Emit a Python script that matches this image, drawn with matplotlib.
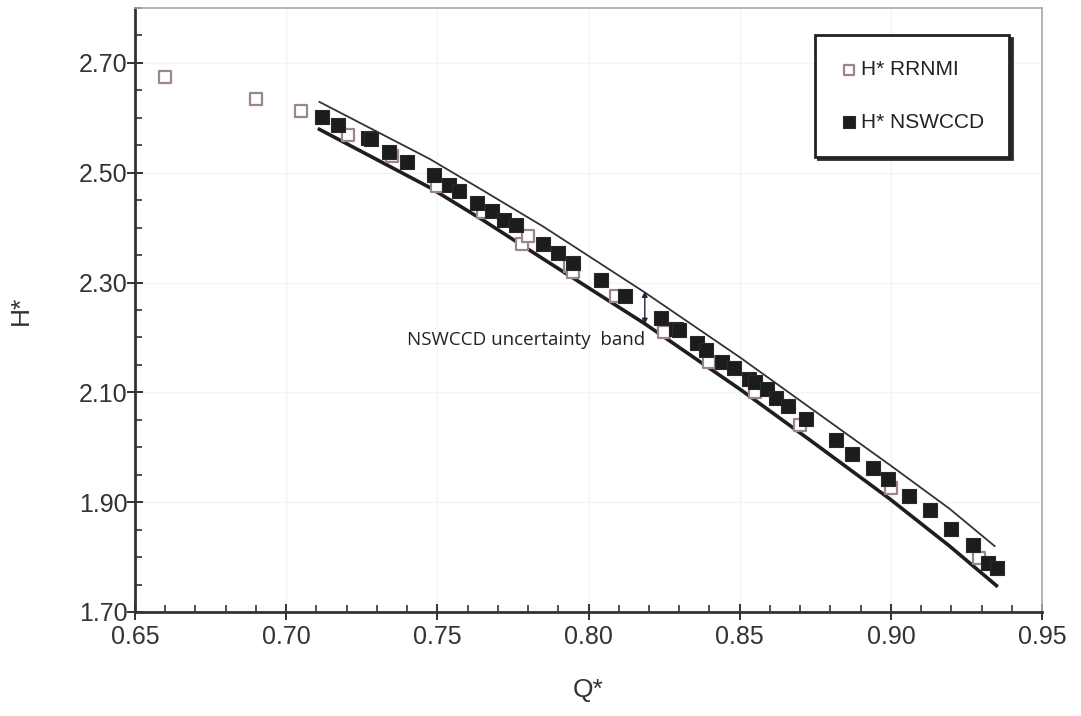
import matplotlib.pyplot as plt
import numpy as np
from matplotlib.ticker import MultipleLocator, FormatStrFormatter

# RRNMI test points (open squares)
q_rrnmi = [0.660, 0.690, 0.705, 0.7205, 0.735, 0.750, 0.765, 0.778, 0.780, 0.794, 0.795,
           0.809, 0.825, 0.840, 0.855, 0.870, 0.900, 0.929]
h_rrnmi = [2.675, 2.635, 2.612, 2.569, 2.530, 2.476, 2.428, 2.371, 2.385, 2.330, 2.320,
           2.275, 2.210, 2.155, 2.100, 2.040, 1.925, 1.798]

# NSWCCD test points (filled squares)
q_nswccd = [0.712, 0.717, 0.727, 0.728, 0.734, 0.740, 0.749, 0.754, 0.757, 0.763, 0.768,
            0.772, 0.776, 0.785, 0.790, 0.795, 0.804, 0.812, 0.824, 0.829, 0.830, 0.836,
            0.839, 0.844, 0.848, 0.853, 0.855, 0.859, 0.862, 0.866, 0.872, 0.882, 0.887,
            0.894, 0.899, 0.906, 0.913, 0.920, 0.927, 0.932, 0.935]
h_nswccd = [2.602, 2.587, 2.563, 2.561, 2.537, 2.520, 2.495, 2.478, 2.467, 2.444, 2.430,
            2.413, 2.404, 2.371, 2.353, 2.336, 2.304, 2.275, 2.235, 2.216, 2.213, 2.189,
            2.178, 2.156, 2.145, 2.125, 2.118, 2.107, 2.090, 2.075, 2.051, 2.013, 1.987,
            1.962, 1.942, 1.911, 1.886, 1.852, 1.822, 1.789, 1.780]

# uncertainty band limits
q_band_hi = [0.711, 0.7475, 0.765, 0.785, 0.8186, 0.850, 0.873, 0.8996, 0.9194, 0.9343]
h_band_hi = [2.629, 2.525, 2.468, 2.402, 2.282, 2.164, 2.073, 1.968, 1.888, 1.820]
q_band_lo = [0.711, 0.7475, 0.765, 0.785, 0.8186, 0.850, 0.873, 0.8996, 0.9194, 0.9349]
h_band_lo = [2.579, 2.473, 2.414, 2.343, 2.225, 2.106, 2.014, 1.906, 1.820, 1.748]

plt.rcParams['font.family'] = ['Liberation Sans', 'DejaVu Sans']

fig = plt.figure(figsize=(10.81, 7.16), dpi=100)
ax = fig.add_axes([0.1249, 0.1453, 0.8391, 0.8435])

ax.plot(q_band_hi, h_band_hi, color='#333333', lw=1.3, zorder=2)
ax.plot(q_band_lo, h_band_lo, color='#1e1e1e', lw=2.6, zorder=2)

ax.scatter(q_rrnmi, h_rrnmi, marker='s', s=64, facecolor='white',
           edgecolor='#9c8494', linewidths=1.6, zorder=3, label='H* RRNMI')
ax.scatter(q_nswccd, h_nswccd, marker='s', s=115, facecolor='#1c1c1c',
           edgecolor='#2a2a2a', linewidths=0.8, zorder=4, label='H* NSWCCD')

# double arrow showing band width
ax.annotate('', xy=(0.8186, 2.284), xytext=(0.8186, 2.224),
            arrowprops=dict(arrowstyle='<|-|>', color='#222244', lw=1.0,
                            mutation_scale=8, shrinkA=0, shrinkB=0), zorder=5)
ax.text(0.8186, 2.1945, 'NSWCCD uncertainty  band', family=['Open Sans', 'DejaVu Sans'],
        fontsize=13.5, color='#222222', ha='right', va='center', zorder=5)

ax.set_xlim(0.65, 0.95)
ax.set_ylim(1.70, 2.80)
ax.xaxis.set_major_locator(MultipleLocator(0.05))
ax.xaxis.set_minor_locator(MultipleLocator(0.01))
ax.yaxis.set_major_locator(MultipleLocator(0.20))
ax.yaxis.set_minor_locator(MultipleLocator(0.05))
ax.xaxis.set_major_formatter(FormatStrFormatter('%.2f'))
ax.yaxis.set_major_formatter(FormatStrFormatter('%.2f'))
ax.set_yticks(np.arange(1.70, 2.71, 0.20))

ax.tick_params(which='major', direction='inout', length=11, width=1.4,
               color='#333333', labelsize=18, labelcolor='#333333', pad=4)
ax.tick_params(axis='y', which='major', pad=0)
ax.tick_params(which='minor', direction='in', length=5, width=1.2, color='#333333')

for s in ['left', 'bottom']:
    ax.spines[s].set_color('#333333')
    ax.spines[s].set_linewidth(2)
for s in ['top', 'right']:
    ax.spines[s].set_color('#a8a8a8')
    ax.spines[s].set_linewidth(1.2)

ax.grid(True, which='major', color='#f3f3f3', lw=1.0, zorder=0)
ax.set_axisbelow(True)

ax.set_xlabel('Q*', fontsize=19, color='#333333', labelpad=21)
ax.set_ylabel('H*', fontsize=19, color='#333333', labelpad=33)

leg = ax.legend(loc='upper right', bbox_to_anchor=(0.975, 0.972), fontsize=15,
                frameon=True, fancybox=False,
                shadow={'color': '#2a2a2a', 'alpha': 1.0},
                handletextpad=0.1, labelspacing=1.6, borderpad=1.2,
                handlelength=0.9, markerscale=0.85)
leg.get_frame().set_edgecolor('#222222')
leg.get_frame().set_linewidth(2)
for t in leg.get_texts():
    t.set_color('#222222')

fig.savefig('out.png', dpi=100)
